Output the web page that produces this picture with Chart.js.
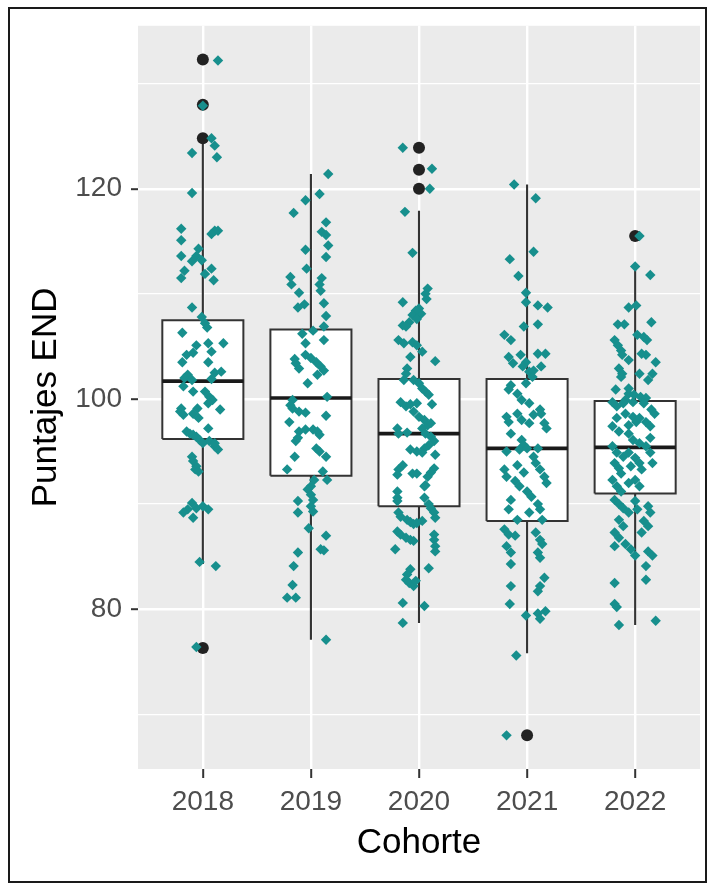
<!DOCTYPE html>
<html>
<head>
<meta charset="utf-8">
<script src="https://cdn.jsdelivr.net/npm/chart.js@4.4.0/dist/chart.umd.min.js"></script>
<style>
  html, body { margin: 0; padding: 0; background: #fff; }
  #wrap { position: relative; width: 707px; height: 886px; background: #fff; }
  #marco { position: absolute; left: 8px; top: 7px; width: 699px; height: 876px;
           border: 2px solid #1a1a1a; box-sizing: border-box; pointer-events: none; }
  canvas { display: block; }
</style>
</head>
<body>
<div id="wrap">
  <canvas id="chart-puntajes" width="707" height="886"></canvas>
  <div id="marco"></div>
</div>
<script>
/* boxplot + jitter — Puntajes END por cohorte */

const cohortes = ['2018', '2019', '2020', '2021', '2022'];

// resumen de cada caja
const q1       = [96.2, 92.7, 89.8, 88.4, 91.0];
const mediana  = [101.7, 100.1, 96.7, 95.3, 95.4];
const q3       = [107.5, 106.6, 101.9, 101.9, 99.8];
const bigoteLo = [84.3, 77.1, 78.7, 75.8, 78.5];
const bigoteHi = [124.3, 121.4, 117.9, 120.4, 112.6];

// atípicos (posición de cohorte, valor)
const atipicoX = [1, 1, 1, 1, 3, 3, 3, 4, 5];
const atipicoY = [132.3, 128.0, 124.8, 76.3, 123.9, 121.8, 120.0, 68.0, 115.5];

// puntos individuales con su desplazamiento horizontal (jitter)
const p2018 = [132.2,127.9,124.8,124.1,123.4,123.0,119.6,116.2,115.1,116.0,
  116.0,115.7,113.6,114.3,113.6,113.1,113.2,112.2,111.5,112.4,
  111.9,111.3,108.7,107.8,107.2,106.8,106.3,105.3,105.1,105.3,
  104.5,104.2,104.4,103.5,103.5,102.6,102.5,102.3,102.0,101.8,
  101.9,101.2,100.7,100.7,100.2,99.9,99.1,99.1,99.6,99.0,
  98.8,98.5,98.6,98.2,96.9,96.7,96.6,96.4,97.2,96.1,
  95.8,96.0,95.5,95.2,95.8,94.5,94.1,93.6,93.3,93.1,
  90.1,89.5,89.2,89.6,89.8,89.5,88.7,84.5,84.1,76.4];
const j2018 = [0.14,0.00,0.08,0.11,-0.10,0.13,-0.10,-0.20,-0.20,0.11,
  0.14,0.08,-0.20,-0.04,-0.06,-0.10,-0.01,-0.17,-0.20,0.08,
  0.02,0.10,-0.10,-0.01,0.02,0.04,-0.19,0.19,-0.06,0.05,
  0.08,-0.15,-0.09,-0.19,0.05,0.17,0.11,-0.14,-0.17,-0.10,
  0.08,-0.18,-0.09,0.02,0.06,0.09,-0.20,-0.05,0.05,0.16,
  -0.21,-0.18,-0.09,-0.04,-0.15,-0.12,-0.09,-0.06,0.05,-0.03,
  0.00,0.06,0.11,0.14,0.11,-0.10,-0.09,-0.06,-0.07,-0.04,
  -0.10,-0.14,-0.18,-0.06,0.00,0.05,-0.09,-0.03,0.12,-0.06];

const p2019 = [121.4,119.5,118.9,117.7,116.8,115.9,115.6,114.6,114.2,113.5,
  112.4,111.6,110.9,111.5,110.9,110.3,110.1,109.1,108.7,109.0,
  107.9,106.9,106.5,106.2,105.6,105.3,103.8,103.4,102.9,104.2,
  103.9,103.5,103.1,102.7,102.3,101.5,100.2,99.9,99.4,99.1,
  98.8,98.7,98.4,97.8,96.9,97.1,97.1,96.9,96.3,96.0,
  96.6,95.3,95.0,94.5,94.5,93.3,93.1,92.3,92.3,91.7,
  91.4,90.9,90.4,90.3,89.2,89.8,89.3,87.7,87.0,85.7,
  85.6,85.4,84.1,82.3,81.1,81.1,77.1];
const j2019 = [0.16,0.08,-0.05,-0.16,0.14,0.10,0.14,0.16,-0.05,0.14,
  -0.04,-0.19,-0.18,0.10,0.08,0.09,-0.11,0.12,-0.12,-0.06,
  0.14,0.12,0.02,-0.08,0.12,-0.05,-0.15,-0.14,-0.11,-0.05,
  0.00,0.05,0.09,0.12,0.06,-0.03,0.15,-0.17,-0.19,-0.17,
  -0.11,-0.05,0.14,-0.20,-0.11,-0.05,0.02,0.06,-0.12,-0.14,
  0.08,0.05,0.08,-0.15,0.14,-0.22,0.11,0.15,0.03,0.00,
  -0.03,0.00,0.02,-0.12,-0.12,0.00,0.02,-0.02,0.14,0.09,
  0.12,-0.12,-0.16,-0.17,-0.22,-0.14,0.14];

const p2020 = [123.9,121.9,120.0,117.8,113.9,110.5,110.0,109.5,109.2,108.6,
  108.1,108.4,108.0,107.6,107.3,107.0,106.9,105.6,105.3,105.4,
  105.1,104.5,104.0,103.6,102.9,102.4,101.8,101.8,101.5,101.0,
  100.7,100.4,99.7,99.3,99.5,99.6,99.5,98.8,98.3,98.0,
  97.5,97.7,97.2,96.7,96.8,97.2,96.7,96.4,96.0,95.6,
  95.3,94.9,95.2,94.7,95.0,93.7,93.3,92.8,92.9,92.9,
  93.4,93.0,92.6,91.8,91.7,91.2,90.6,90.3,90.6,90.0,
  89.6,89.2,88.7,89.2,88.8,88.5,88.3,88.1,88.2,88.4,
  87.4,87.1,86.8,86.6,86.5,87.1,86.6,86.0,85.5,85.7,
  83.9,83.8,83.3,82.8,82.5,82.2,82.7,80.6,80.3,78.7];
const j2020 = [-0.15,0.12,0.10,-0.13,-0.06,0.08,0.06,0.07,-0.15,0.00,
  0.02,-0.03,-0.06,-0.02,-0.09,-0.15,-0.12,-0.19,-0.14,-0.06,
  -0.02,0.03,-0.08,0.15,-0.11,-0.12,-0.14,-0.05,0.00,0.03,
  0.06,0.09,-0.17,-0.12,-0.08,-0.02,0.12,-0.05,0.00,0.05,
  0.08,0.11,-0.20,-0.19,-0.11,0.03,0.06,0.11,0.14,0.09,
  0.05,0.03,-0.08,0.15,-0.02,-0.15,-0.19,-0.20,-0.06,-0.02,
  0.14,0.11,0.08,0.06,0.05,-0.20,-0.20,-0.20,0.05,0.09,
  0.11,0.14,0.15,-0.19,-0.17,-0.11,-0.08,-0.05,-0.02,0.03,
  -0.20,-0.17,-0.12,-0.08,-0.05,0.14,0.14,0.15,0.15,-0.22,
  0.09,-0.08,-0.11,-0.12,-0.09,-0.05,-0.03,-0.15,0.05,-0.15];

const p2021 = [120.4,119.1,114.0,113.3,111.7,110.1,109.2,108.9,108.7,107.1,
  106.9,106.1,105.6,104.3,104.3,104.2,104.0,103.4,103.5,103.1,
  102.6,102.7,103.1,102.1,101.5,101.3,100.9,100.5,99.9,99.6,
  99.0,98.5,98.3,97.8,98.6,98.0,98.6,97.7,97.2,97.7,
  96.7,96.1,95.6,95.2,95.3,95.0,95.3,94.5,93.9,93.3,
  92.6,92.0,93.3,92.6,93.7,93.0,92.2,91.7,91.2,90.7,
  90.4,89.5,90.0,89.5,88.5,89.2,88.5,87.6,87.1,87.0,
  87.3,86.6,86.2,86.0,85.4,85.4,84.9,84.3,83.0,82.2,
  82.2,81.7,80.5,79.4,79.6,79.1,79.8,75.6,68.0];
const j2021 = [-0.12,0.08,0.06,-0.16,-0.08,-0.01,-0.01,0.10,0.19,0.10,
  -0.03,-0.21,-0.15,0.10,0.17,-0.06,-0.17,-0.13,-0.01,-0.04,
  0.02,0.06,0.13,0.05,-0.01,-0.15,-0.17,-0.09,-0.05,0.02,
  0.12,0.06,-0.19,-0.17,-0.09,-0.05,0.13,0.16,0.18,0.02,
  -0.15,-0.05,-0.03,-0.07,0.00,-0.19,0.10,0.06,0.08,0.12,
  0.16,0.18,-0.21,-0.19,-0.09,-0.03,-0.11,-0.07,0.00,0.04,
  -0.15,-0.17,0.10,0.12,0.14,0.02,-0.09,-0.21,-0.17,-0.11,
  0.08,0.12,0.14,-0.19,-0.15,0.10,0.12,-0.15,0.16,-0.15,
  0.12,0.10,-0.16,-0.01,0.10,0.12,0.17,-0.10,-0.19];

const p2022 = [115.5,112.6,111.8,108.7,108.9,107.1,107.1,107.3,105.6,105.1,
  104.6,104.2,106.1,105.9,105.6,103.7,104.2,103.5,102.9,102.4,
  102.1,102.4,102.4,104.3,101.8,100.9,101.0,100.5,100.4,100.2,
  100.1,99.9,99.7,99.7,99.3,99.6,99.6,99.0,98.6,98.6,
  98.3,97.8,97.5,98.2,97.8,97.4,98.2,97.4,96.9,96.7,
  96.1,95.8,96.3,95.5,95.5,94.9,94.5,94.9,94.4,93.9,
  94.9,93.9,93.9,93.4,92.9,93.6,93.3,92.3,91.7,91.2,
  92.0,92.3,91.7,90.4,90.0,89.6,90.3,89.5,89.2,89.8,
  89.2,88.5,87.9,88.4,87.9,87.3,87.3,86.8,86.2,85.7,
  85.5,85.1,85.1,86.0,84.1,82.5,82.8,80.5,80.2,78.5,
  78.9];
const j2022 = [0.04,0.00,0.14,-0.06,0.01,-0.16,-0.10,0.15,-0.19,-0.16,
  -0.13,-0.12,0.02,0.08,0.11,-0.06,0.10,0.19,-0.15,-0.12,
  -0.13,0.04,0.16,0.06,0.12,-0.18,-0.06,-0.06,-0.01,0.05,
  0.10,-0.09,-0.02,-0.21,-0.17,-0.11,0.08,0.15,0.18,-0.09,
  -0.02,0.01,-0.06,0.04,0.10,0.14,-0.17,-0.21,-0.15,-0.06,
  -0.02,0.04,0.14,0.10,-0.21,-0.17,-0.11,-0.06,0.00,0.04,
  0.14,0.16,-0.19,-0.15,-0.13,-0.04,0.06,-0.21,-0.17,-0.13,
  -0.06,0.00,0.04,-0.19,-0.15,-0.11,0.00,0.02,-0.06,0.12,
  0.14,-0.15,-0.11,0.08,0.12,0.06,-0.19,-0.15,-0.09,-0.04,
  0.12,0.16,0.00,-0.19,0.10,-0.19,0.10,-0.19,-0.17,-0.15,
  0.19];

const puntajes = [p2018, p2019, p2020, p2021, p2022];
const jitters  = [j2018, j2019, j2020, j2021, j2022];

// eje y
const yTicks   = [70, 80, 90, 100, 110, 120, 130];
const yLabels  = [80, 100, 120];

const FONT = "'Liberation Sans', Arial, sans-serif";
const TEAL = '#178f8d';
const LINEA = '#333333';
const MEDIO_ANCHO = 0.375;

function lineaDs(data, color, width) {
  return {
    type: 'line', data, borderColor: color, borderWidth: width,
    pointRadius: 0, fill: false, tension: 0,
    borderCapStyle: 'butt', borderJoinStyle: 'miter',
  };
}

// el primer dataset queda arriba
const datasets = [];

const puntos = [];
puntajes.forEach((vals, i) => vals.forEach((v, k) => puntos.push({x: i + 1 + jitters[i][k], y: v})));
datasets.push({
  type: 'scatter', data: puntos, pointStyle: 'rectRot',
  pointRadius: 5.2, backgroundColor: TEAL, borderWidth: 0,
});

datasets.push({
  type: 'scatter', data: atipicoX.map((c, k) => ({x: c, y: atipicoY[k]})),
  pointStyle: 'circle', pointRadius: 6, backgroundColor: '#222222', borderWidth: 0,
});

cohortes.forEach((c, i) => {
  const x = i + 1;
  datasets.push(lineaDs([{x: x - MEDIO_ANCHO, y: mediana[i]}, {x: x + MEDIO_ANCHO, y: mediana[i]}], '#1a1a1a', 3.6));
});
cohortes.forEach((c, i) => {
  const x = i + 1;
  datasets.push(lineaDs([
    {x: x - MEDIO_ANCHO, y: q1[i]}, {x: x + MEDIO_ANCHO, y: q1[i]},
    {x: x + MEDIO_ANCHO, y: q3[i]}, {x: x - MEDIO_ANCHO, y: q3[i]},
    {x: x - MEDIO_ANCHO, y: q1[i]}], LINEA, 2));
});
cohortes.forEach((c, i) => {
  const x = i + 1;
  datasets.push({
    type: 'line', data: [{x: x - MEDIO_ANCHO, y: q3[i]}, {x: x + MEDIO_ANCHO, y: q3[i]}],
    borderWidth: 0, borderColor: 'rgba(0,0,0,0)', backgroundColor: '#ffffff',
    pointRadius: 0, tension: 0, fill: {value: q1[i]},
  });
});
cohortes.forEach((c, i) => {
  const x = i + 1;
  datasets.push(lineaDs([{x, y: bigoteLo[i]}, {x, y: bigoteHi[i]}], LINEA, 2.1));
});

const fondoPanel = {
  id: 'fondoPanel',
  beforeDraw(chart) {
    const {ctx, chartArea: a} = chart;
    ctx.save();
    ctx.fillStyle = '#EBEBEB';
    ctx.fillRect(a.left, a.top, a.right - a.left, a.bottom - a.top);
    ctx.restore();
  }
};

const esMayor = c => c.tick && yLabels.includes(c.tick.value);

new Chart(document.getElementById('chart-puntajes'), {
  type: 'scatter',
  data: { datasets },
  plugins: [fondoPanel],
  options: {
    responsive: false,
    animation: false,
    devicePixelRatio: 1,
    layout: { padding: { top: 25, right: 7, left: 0, bottom: 0 } },
    plugins: { legend: { display: false }, tooltip: { enabled: false } },
    scales: {
      x: {
        type: 'linear', min: 0.4, max: 5.6,
        afterBuildTicks: s => { s.ticks = cohortes.map((c, i) => ({value: i + 1})); },
        afterFit: s => { s.height = 117; },
        ticks: {
          callback: v => cohortes[v - 1],
          font: { family: FONT, size: 28 }, color: '#4d4d4d',
          padding: 7, maxRotation: 0, autoSkip: false,
        },
        grid: { color: '#ffffff', lineWidth: 2.4, tickColor: LINEA, tickLength: 9, tickWidth: 2 },
        border: { display: false },
        title: {
          display: true, text: 'Cohorte', color: '#000000',
          font: { family: FONT, size: 35 }, padding: { top: 0, bottom: 22 },
        },
      },
      y: {
        type: 'linear', min: 64.8, max: 135.5,
        afterBuildTicks: s => { s.ticks = yTicks.map(v => ({value: v})); },
        afterFit: s => { s.width = 138; },
        ticks: {
          callback: v => yLabels.includes(v) ? String(v) : '',
          font: { family: FONT, size: 28 }, color: '#4d4d4d', padding: 9,
        },
        grid: {
          color: '#ffffff',
          lineWidth: c => esMayor(c) ? 2.4 : 1.2,
          tickColor: c => esMayor(c) ? LINEA : 'rgba(0,0,0,0)',
          tickLength: 7, tickWidth: 2,
        },
        border: { display: false },
        title: {
          display: true, text: 'Puntajes END', color: '#000000',
          font: { family: FONT, size: 35 }, padding: { top: 25, bottom: 0 },
        },
      },
    },
  },
});
</script>
</body>
</html>
